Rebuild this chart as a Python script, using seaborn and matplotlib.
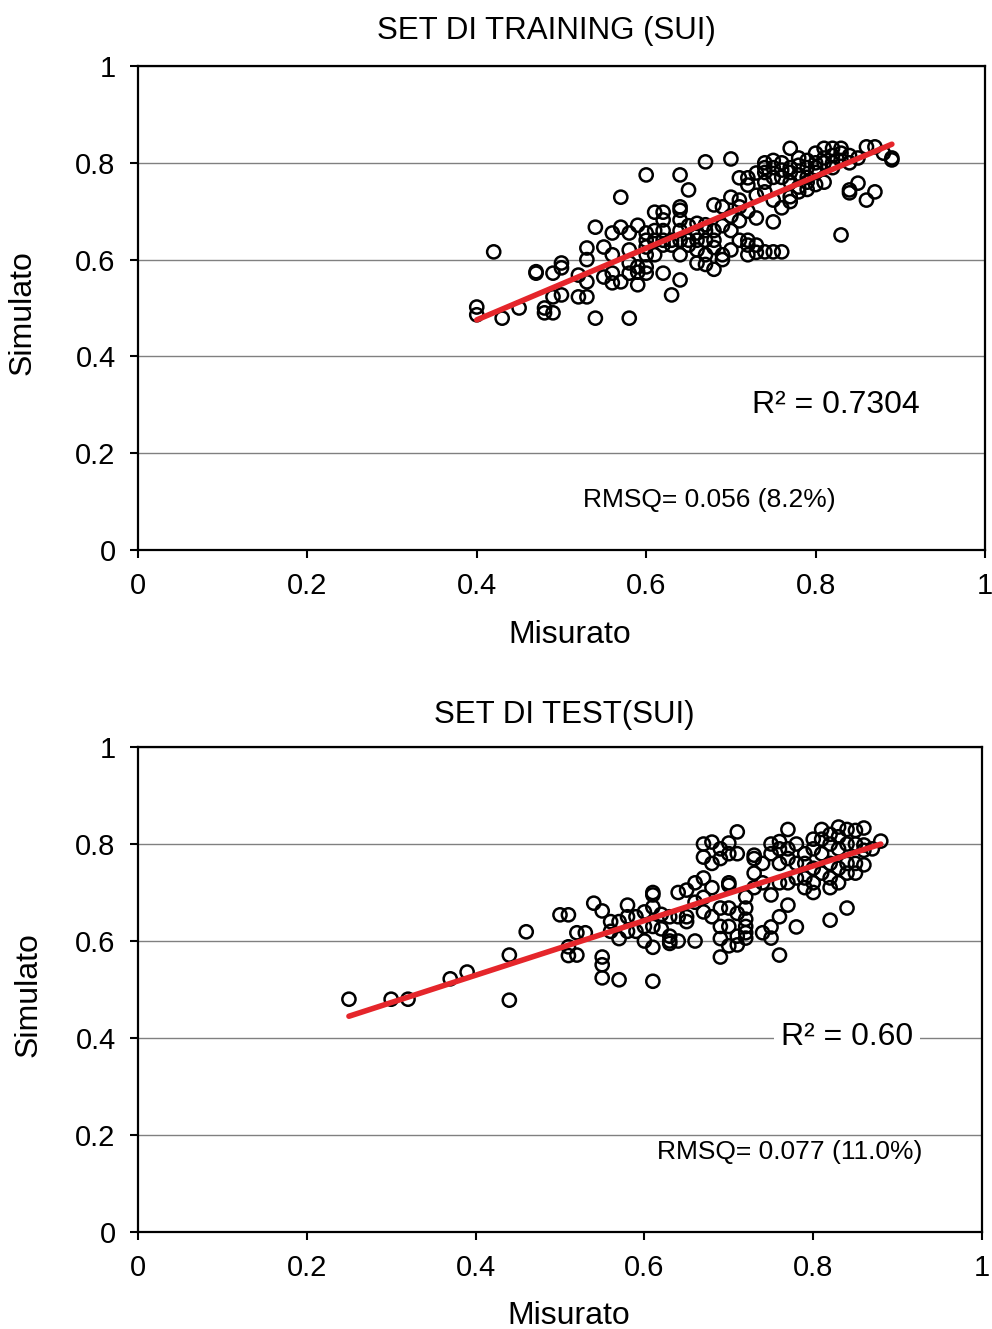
import numpy as np
import pandas as pd
import matplotlib
matplotlib.use("Agg")
import matplotlib.pyplot as plt
import seaborn as sns

# --- SET DI TRAINING: (misurato, simulato)
train_x = [0.40, 0.40, 0.42, 0.43, 0.45, 0.47, 0.47, 0.48, 0.48,
           0.49, 0.49, 0.49, 0.50, 0.50, 0.50, 0.52, 0.52,
           0.53, 0.53, 0.53, 0.53, 0.54, 0.54, 0.55, 0.55,
           0.56, 0.56, 0.56, 0.56, 0.57, 0.57, 0.57,
           0.58, 0.58, 0.58, 0.58, 0.58, 0.59, 0.59, 0.59, 0.59,
           0.60, 0.60, 0.60, 0.60, 0.60, 0.60, 0.60,
           0.61, 0.61, 0.61, 0.61,
           0.62, 0.62, 0.62, 0.62, 0.62, 0.62, 0.63, 0.63, 0.63,
           0.64, 0.64, 0.64, 0.64, 0.64, 0.64, 0.64, 0.64,
           0.65, 0.65, 0.65, 0.65, 0.66, 0.66, 0.66, 0.66, 0.66,
           0.67, 0.67, 0.67, 0.67, 0.67, 0.67,
           0.68, 0.68, 0.68, 0.68, 0.68, 0.69, 0.69, 0.69, 0.69,
           0.70, 0.70, 0.70, 0.70, 0.70, 0.71, 0.71, 0.71, 0.71, 0.71,
           0.72, 0.72, 0.72, 0.72, 0.72, 0.72, 0.73, 0.73, 0.73, 0.73, 0.73,
           0.74, 0.74, 0.74, 0.74, 0.74, 0.74, 0.75, 0.75, 0.75, 0.75, 0.75, 0.75,
           0.76, 0.76, 0.76, 0.76, 0.76, 0.77, 0.77, 0.77, 0.77, 0.77, 0.77,
           0.78, 0.78, 0.78, 0.78, 0.78, 0.79, 0.79, 0.79, 0.79, 0.79,
           0.80, 0.80, 0.80, 0.80, 0.80, 0.81, 0.81, 0.81, 0.81,
           0.82, 0.82, 0.82, 0.82, 0.83, 0.83, 0.83, 0.83,
           0.84, 0.84, 0.84, 0.84, 0.85, 0.85, 0.86, 0.86, 0.87, 0.87,
           0.88, 0.89, 0.89]
train_y = [0.502, 0.486, 0.616, 0.479, 0.500, 0.572, 0.575, 0.500, 0.490,
           0.490, 0.523, 0.572, 0.527, 0.593, 0.583, 0.523, 0.568,
           0.523, 0.624, 0.600, 0.554, 0.667, 0.479, 0.626, 0.564,
           0.655, 0.610, 0.572, 0.552, 0.729, 0.667, 0.554,
           0.655, 0.620, 0.593, 0.572, 0.479, 0.671, 0.585, 0.574, 0.548,
           0.775, 0.655, 0.640, 0.626, 0.610, 0.585, 0.572,
           0.698, 0.660, 0.640, 0.610,
           0.698, 0.682, 0.660, 0.640, 0.630, 0.572, 0.640, 0.630, 0.527,
           0.775, 0.709, 0.702, 0.682, 0.660, 0.640, 0.610, 0.558,
           0.744, 0.670, 0.640, 0.630, 0.675, 0.655, 0.640, 0.620, 0.593,
           0.802, 0.672, 0.660, 0.640, 0.610, 0.590,
           0.713, 0.660, 0.640, 0.625, 0.580, 0.709, 0.670, 0.610, 0.600,
           0.808, 0.729, 0.690, 0.660, 0.620, 0.769, 0.723, 0.709, 0.680, 0.640,
           0.769, 0.754, 0.700, 0.640, 0.630, 0.610, 0.779, 0.733, 0.686, 0.630, 0.615,
           0.800, 0.790, 0.780, 0.760, 0.740, 0.616, 0.805, 0.790, 0.770, 0.723, 0.678, 0.616,
           0.800, 0.785, 0.770, 0.707, 0.616, 0.830, 0.790, 0.780, 0.760, 0.730, 0.720,
           0.810, 0.795, 0.775, 0.750, 0.740, 0.805, 0.790, 0.770, 0.760, 0.745,
           0.820, 0.800, 0.790, 0.780, 0.755, 0.830, 0.810, 0.800, 0.760,
           0.830, 0.815, 0.800, 0.790, 0.830, 0.820, 0.805, 0.651,
           0.815, 0.800, 0.744, 0.738, 0.810, 0.758, 0.833, 0.723, 0.833, 0.740,
           0.820, 0.810, 0.806]

# --- SET DI TEST
test_x = [0.25, 0.30, 0.32, 0.37, 0.39, 0.44, 0.44, 0.46, 0.50,
          0.51, 0.51, 0.51, 0.52, 0.52, 0.53, 0.54,
          0.55, 0.55, 0.55, 0.55, 0.56, 0.56, 0.57, 0.57, 0.57,
          0.58, 0.58, 0.58, 0.59, 0.59, 0.60, 0.60, 0.60,
          0.61, 0.61, 0.61, 0.61, 0.61, 0.61, 0.62, 0.62,
          0.63, 0.63, 0.63, 0.63, 0.64, 0.64, 0.64, 0.65, 0.65, 0.65,
          0.66, 0.66, 0.66, 0.67, 0.67, 0.67, 0.67, 0.67,
          0.68, 0.68, 0.68, 0.68, 0.69, 0.69, 0.69, 0.69, 0.69, 0.69,
          0.70, 0.70, 0.70, 0.70, 0.70, 0.70, 0.70,
          0.71, 0.71, 0.71, 0.71, 0.71, 0.72, 0.72, 0.72, 0.72, 0.72, 0.72,
          0.73, 0.73, 0.73, 0.73, 0.74, 0.74, 0.74,
          0.75, 0.75, 0.75, 0.75, 0.75, 0.76, 0.76, 0.76, 0.76, 0.76, 0.76,
          0.77, 0.77, 0.77, 0.77, 0.77, 0.78, 0.78, 0.78, 0.78,
          0.79, 0.79, 0.79, 0.79, 0.80, 0.80, 0.80, 0.80, 0.80,
          0.81, 0.81, 0.81, 0.81, 0.82, 0.82, 0.82, 0.82, 0.82, 0.82,
          0.83, 0.83, 0.83, 0.83, 0.83, 0.84, 0.84, 0.84, 0.84, 0.84,
          0.85, 0.85, 0.85, 0.85, 0.86, 0.86, 0.86, 0.86, 0.87, 0.88]
test_y = [0.480, 0.480, 0.480, 0.522, 0.536, 0.571, 0.478, 0.619, 0.654,
          0.654, 0.588, 0.570, 0.617, 0.571, 0.617, 0.678,
          0.662, 0.567, 0.551, 0.524, 0.640, 0.620, 0.640, 0.605, 0.520,
          0.674, 0.650, 0.620, 0.650, 0.620, 0.660, 0.630, 0.600,
          0.700, 0.695, 0.670, 0.630, 0.587, 0.517, 0.655, 0.625,
          0.650, 0.610, 0.600, 0.595, 0.700, 0.650, 0.600, 0.705, 0.650, 0.640,
          0.720, 0.680, 0.600, 0.800, 0.773, 0.730, 0.690, 0.660,
          0.804, 0.760, 0.710, 0.650, 0.790, 0.770, 0.668, 0.630, 0.605, 0.567,
          0.802, 0.780, 0.720, 0.715, 0.668, 0.630, 0.590,
          0.825, 0.780, 0.657, 0.610, 0.592, 0.691, 0.668, 0.645, 0.630, 0.617, 0.606,
          0.777, 0.770, 0.740, 0.710, 0.760, 0.720, 0.617,
          0.800, 0.780, 0.695, 0.629, 0.606, 0.805, 0.790, 0.760, 0.720, 0.650, 0.571,
          0.830, 0.790, 0.770, 0.720, 0.674, 0.800, 0.760, 0.730, 0.629,
          0.780, 0.760, 0.730, 0.710, 0.810, 0.790, 0.750, 0.720, 0.700,
          0.830, 0.810, 0.780, 0.740, 0.820, 0.800, 0.760, 0.730, 0.710, 0.643,
          0.835, 0.815, 0.790, 0.750, 0.720, 0.830, 0.800, 0.760, 0.740, 0.668,
          0.828, 0.800, 0.760, 0.740, 0.833, 0.798, 0.787, 0.757, 0.790, 0.806]

# trend lines (slope, intercept)
trend_train = (0.741, 0.179)
trend_test = (0.5635, 0.304)

titles = ["SET DI TRAINING (SUI)", "SET DI TEST(SUI)"]
r2_labels = ["R² = 0.7304", "R² = 0.60"]
rmsq_labels = ["RMSQ= 0.056 (8.2%)", "RMSQ= 0.077 (11.0%)"]
tick_vals = [0, 0.2, 0.4, 0.6, 0.8, 1]
tick_text = ['0', '0.2', '0.4', '0.6', '0.8', '1']

sns.set_style("white")
plt.rcParams['font.family'] = ['Liberation Sans', 'DejaVu Sans']
plt.rcParams['text.color'] = 'black'
plt.rcParams['axes.labelcolor'] = 'black'
plt.rcParams['xtick.color'] = 'black'
plt.rcParams['ytick.color'] = 'black'

fig = plt.figure(figsize=(9.92, 13.29), dpi=100)
ax_top = fig.add_axes([0.139, 0.5862, 0.854, 0.3641])
ax_bot = fig.add_axes([0.139, 0.0730, 0.851, 0.3649])


def disegna(ax, xs, ys, trend, titolo, r2, rmsq, pos_r2, pos_rmsq, box_r2,
            tx, tpad, ylab_x, xlab_y):
    df = pd.DataFrame({'Misurato': xs, 'Simulato': ys})
    sns.scatterplot(data=df, x='Misurato', y='Simulato', ax=ax, s=90,
                    facecolor='none', edgecolor='black', linewidth=1.8, zorder=3)
    xr = np.array([min(xs), max(xs)])
    sns.lineplot(x=xr, y=trend[0] * xr + trend[1], ax=ax, color='#e5262b',
                 linewidth=4, zorder=4)
    ax.set_xlim(0, 1)
    ax.set_ylim(0, 1)
    ax.set_xticks(tick_vals)
    ax.set_yticks(tick_vals)
    ax.set_xticklabels(tick_text)
    ax.set_yticklabels(tick_text)
    ax.tick_params(axis='both', direction='out', length=6, width=1.5,
                   labelsize=21, color='black', left=True, bottom=True, pad=10)
    ax.grid(axis='y', color='#808080', linewidth=1)
    ax.grid(axis='x', visible=False)
    for sp in ax.spines.values():
        sp.set_color('black')
        sp.set_linewidth(1.6)
    ax.set_xlabel('Misurato', fontsize=23)
    ax.set_ylabel('Simulato', fontsize=23)
    ax.xaxis.set_label_coords(0.51, xlab_y)
    ax.yaxis.set_label_coords(ylab_x, 0.49)
    ax.set_title(titolo, fontsize=22.5, x=tx, pad=tpad)
    bbox = dict(facecolor='white', edgecolor='none', pad=5) if box_r2 else None
    ax.text(pos_r2[0], pos_r2[1], r2, fontsize=23, ha='center', va='center',
            bbox=bbox, zorder=5)
    ax.text(pos_rmsq[0], pos_rmsq[1], rmsq, fontsize=19, ha='center', va='center', zorder=5)


disegna(ax_top, train_x, train_y, trend_train, titles[0], r2_labels[0], rmsq_labels[0],
        (0.824, 0.30), (0.674, 0.103), False, 0.482, 19.5, -0.118, -0.145)
disegna(ax_bot, test_x, test_y, trend_test, titles[1], r2_labels[1], rmsq_labels[1],
        (0.84, 0.402), (0.772, 0.165), True, 0.505, 17, -0.112, -0.142)

fig.savefig('out.png', dpi=100)
